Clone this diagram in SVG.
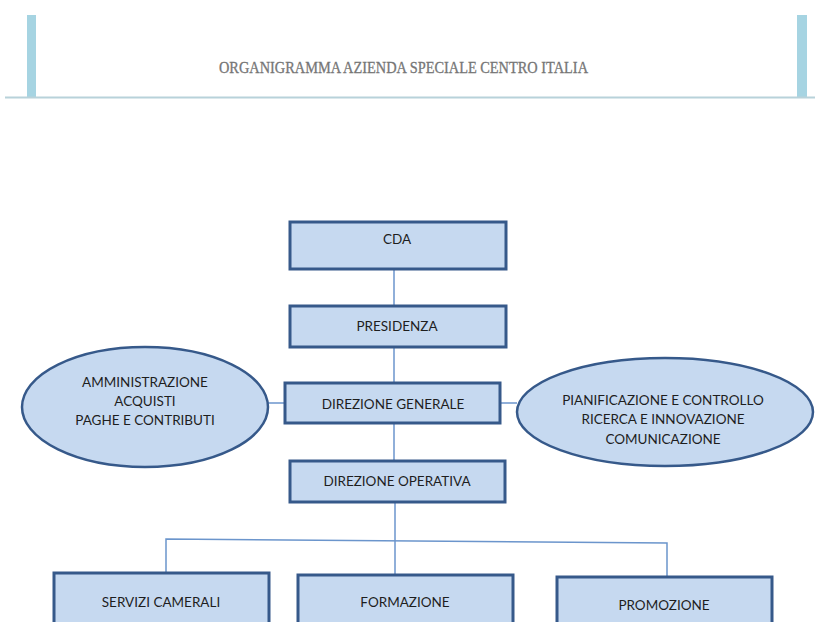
<svg xmlns="http://www.w3.org/2000/svg" width="815" height="622" viewBox="0 0 815 622">
<style>
.box{fill:#c6d9f0;stroke:#36598a;stroke-width:3}
.ell{fill:#c6d9f0;stroke:#36598a;stroke-width:2.5}
.lbl{font-family:Lato,"Liberation Sans",sans-serif;font-size:13.5px;fill:#1e1e1e;text-anchor:middle}
.con{fill:none;stroke:#6b95cc;stroke-width:1.5}
</style>
<rect width="815" height="622" fill="#ffffff"/>
<g id="header">
<rect x="27" y="15" width="9" height="82" fill="#a6d4e2"/>
<rect x="797" y="15" width="10" height="82" fill="#a6d4e2"/>
<line x1="5" y1="97.5" x2="815" y2="97.5" stroke="#b8d2da" stroke-width="2"/>
<text x="403.5" y="72.5" font-family="'Liberation Serif',serif" font-size="16" fill="#767676" stroke="#767676" stroke-width="0.3" text-anchor="middle" textLength="369" lengthAdjust="spacingAndGlyphs">ORGANIGRAMMA AZIENDA SPECIALE CENTRO ITALIA</text>
</g>
<g id="connectors">
<line class="con" x1="394" y1="270" x2="394" y2="306"/>
<line class="con" x1="394" y1="347" x2="394" y2="383"/>
<line class="con" x1="394" y1="423" x2="394" y2="461"/>
<line class="con" x1="395" y1="502" x2="395" y2="575"/>
<line class="con" x1="268" y1="403" x2="285" y2="403"/>
<line class="con" x1="500" y1="403" x2="517" y2="403"/>
<polyline class="con" points="166,573 166,539 667,543 667,577"/>
</g>
<g id="cda">
<rect class="box" x="290" y="222" width="216" height="47"/>
<text class="lbl" x="397" y="244">CDA</text>
</g>
<g id="presidenza">
<rect class="box" x="290" y="306" width="216" height="41"/>
<text class="lbl" x="397" y="331">PRESIDENZA</text>
</g>
<g id="direzione-generale">
<rect class="box" x="285" y="383" width="215" height="40"/>
<text class="lbl" x="393" y="409">DIREZIONE GENERALE</text>
</g>
<g id="direzione-operativa">
<rect class="box" x="290" y="461" width="215" height="41"/>
<text class="lbl" x="397" y="486">DIREZIONE OPERATIVA</text>
</g>
<g id="amministrazione">
<ellipse class="ell" cx="145" cy="407" rx="123" ry="60"/>
<text class="lbl" x="145" y="387">AMMINISTRAZIONE</text>
<text class="lbl" x="145" y="406">ACQUISTI</text>
<text class="lbl" x="145" y="425">PAGHE E CONTRIBUTI</text>
</g>
<g id="pianificazione">
<ellipse class="ell" cx="665" cy="412" rx="148" ry="54"/>
<text class="lbl" x="663" y="405">PIANIFICAZIONE E CONTROLLO</text>
<text class="lbl" x="663" y="424">RICERCA E INNOVAZIONE</text>
<text class="lbl" x="663" y="444">COMUNICAZIONE</text>
</g>
<g id="servizi-camerali">
<rect class="box" x="54" y="573" width="215" height="60"/>
<text class="lbl" x="161" y="607">SERVIZI CAMERALI</text>
</g>
<g id="formazione">
<rect class="box" x="298" y="575" width="215" height="60"/>
<text class="lbl" x="405" y="607">FORMAZIONE</text>
</g>
<g id="promozione">
<rect class="box" x="557" y="577" width="215" height="60"/>
<text class="lbl" x="664" y="610">PROMOZIONE</text>
</g>
</svg>
